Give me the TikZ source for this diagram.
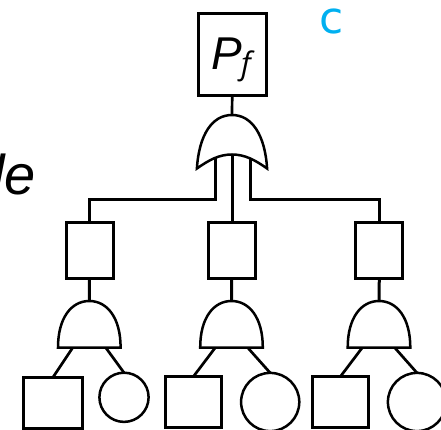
\documentclass[tikz,border=0pt]{standalone}
\usepackage{fontspec}
\setmainfont{Liberation Sans}
\newfontfamily\cfont{DejaVu Sans}
\newfontfamily\ffont{Open Sans}
\definecolor{cyanlabel}{HTML}{00B0F0}
\tikzset{
  wire/.style={line width=3pt,line cap=butt,line join=miter},
  thinwire/.style={line width=2.7pt},
  boxnode/.style={draw,line width=3pt,rectangle,inner sep=0pt,outer sep=0pt},
  circnode/.style={draw,line width=2.5pt,circle,inner sep=0pt,outer sep=0pt},
  gate/.style={line width=2.5pt,line join=miter},
  txt/.style={inner sep=0pt,outer sep=0pt,anchor=base west}
}
\begin{document}
\begin{tikzpicture}[x=1pt,y=-1pt]
\useasboundingbox (0,0) rectangle (441,430);
\clip (0,0) rectangle (441,430);
% texts
\node[txt,font=\fontsize{56}{56}\selectfont\itshape] (le) at (-8,195) {le};
\node[txt,font=\cfont\fontsize{44}{44}\selectfont,text=cyanlabel] (c) at (319,34) {c};
% top box
\node[boxnode,minimum width=67.7pt,minimum height=82pt] (top) at (232.2,55) {};
\node[txt,font=\fontsize{46}{46}\selectfont\itshape] (p) at (211,70) {P};
\node[txt,font=\ffont\fontsize{31}{31}\selectfont\itshape] (f) at (241,75) {f};
% OR gate
\coordinate (orTop) at (232,115);
\coordinate (orPeak) at (232,154.5);
\coordinate (orL) at (215.8,158.5);
\coordinate (orR) at (250.3,158.5);
\draw[gate] (196.9,168.5) .. controls (199,135) and (212,115) .. (orTop)
  .. controls (252,115) and (265,135) .. (267.1,168.5)
  .. controls (255,160) and (245,154.5) .. (orPeak)
  .. controls (219,154.5) and (209,160) .. cycle;
% mid boxes
\node[boxnode,minimum width=47pt,minimum height=56pt] (b1) at (89.5,250) {};
\node[boxnode,minimum width=47pt,minimum height=56pt] (b2) at (231.7,250) {};
\node[boxnode,minimum width=47pt,minimum height=56pt] (b3) at (379.3,250) {};
\draw[thinwire] (top.south) -- (orTop);
\draw[wire] (orL) -- (215.8,199.5) -| (b1.north);
\draw[wire] (orPeak) -- (orPeak |- b2.north);
\draw[wire] (orR) -- (250.3,199.5) -| (b3.north);
% AND gates
\foreach \n/\cx in {1/89.3,2/231.5,3/379}{
  \coordinate (a\n) at (\cx,301);
  \draw[gate] (\cx-31.3,347.5) .. controls (\cx-31.3,318) and (\cx-18,301) .. (a\n)
    .. controls (\cx+18,301) and (\cx+31.3,318) .. (\cx+31.3,347.5) -- cycle;
  \draw[wire] (b\n.south) -- (a\n);
}
% leaves
\node[boxnode,minimum width=59pt,minimum height=50.5pt] (s1) at (52.5,403.2) {};
\node[boxnode,minimum width=56.3pt,minimum height=51.3pt] (s2) at (193.8,401.7) {};
\node[boxnode,minimum width=56.3pt,minimum height=51.3pt] (s3) at (340.8,401.7) {};
\node[circnode,minimum size=49.2pt] (c1) at (124,397.3) {};
\node[circnode,minimum size=58.2pt] (c2) at (270.2,402) {};
\node[circnode,minimum size=58.2pt] (c3) at (417,402) {};
\coordinate (l1) at (72.5,348);\coordinate (r1) at (106,348);
\coordinate (l2) at (215,348);\coordinate (r2) at (248,348);
\coordinate (l3) at (362,348);\coordinate (r3) at (395,348);
\foreach \n in {1,2,3}{
  \draw[thinwire] (l\n) -- (s\n.north);
  \draw[thinwire] (r\n) -- (c\n.north);
}
\end{tikzpicture}
\end{document}
